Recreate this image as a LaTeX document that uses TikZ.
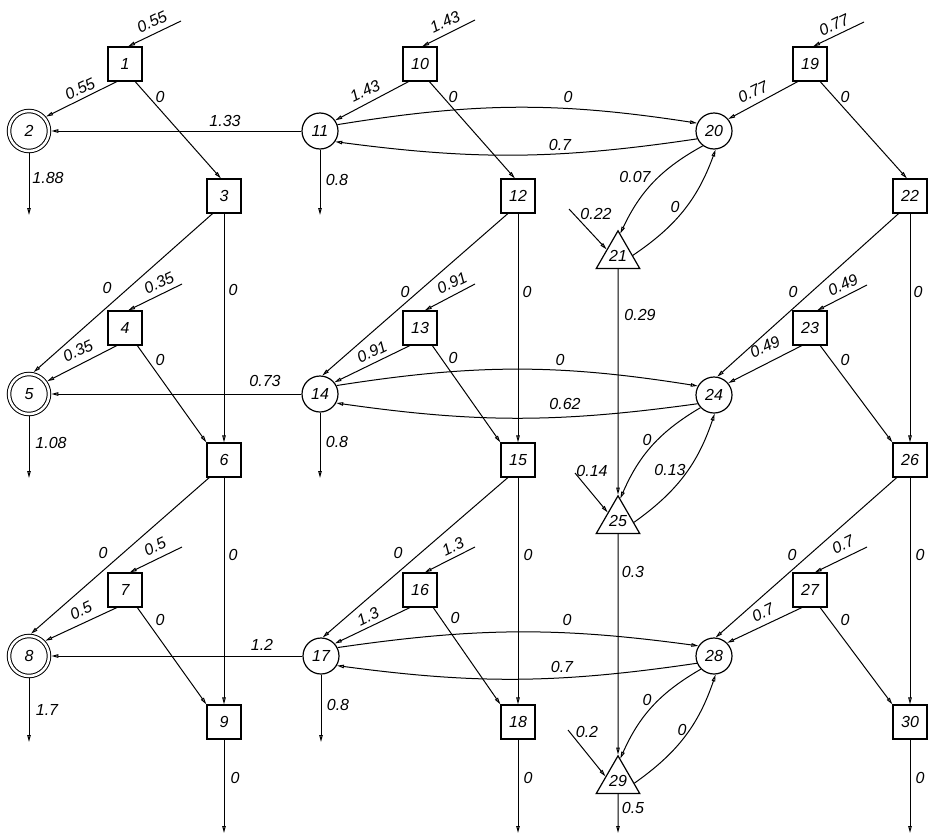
\documentclass[tikz,border=0pt]{standalone}
\usepackage{fontspec}
\setmainfont{Liberation Sans}
\usetikzlibrary{arrows.meta,shapes.geometric,calc}
\begin{document}
\begin{tikzpicture}[x=1pt,y=-1pt,
  every node/.style={font=\fontsize{16}{18}\selectfont\itshape},
  sq/.style={draw,line width=1.2pt,minimum size=34pt,inner sep=0pt},
  cir/.style={draw,circle,line width=1.2pt,minimum size=36pt,inner sep=0pt},
  dcir/.style={draw,circle,double,double distance=2.5pt,line width=1pt,minimum size=40pt,inner sep=0pt,outer sep=2.3pt},
  tri/.style={draw,regular polygon,regular polygon sides=3,minimum size=48pt,inner sep=0pt,line width=1.2pt},
  ar/.style={line width=1pt,-{Triangle[open,length=7pt,width=3.5pt]}},
  lb/.style={inner sep=1pt},
]
\useasboundingbox (0,0) rectangle (934,838);
% nodes
\node[sq] (n1) at (125,64) {1};
\node[dcir] (n2) at (29,131) {2};
\node[sq] (n3) at (224,196) {3};
\node[sq] (n4) at (125,328) {4};
\node[dcir] (n5) at (29,394) {5};
\node[sq] (n6) at (224,460) {6};
\node[sq] (n7) at (125,590) {7};
\node[dcir] (n8) at (29,656) {8};
\node[sq] (n9) at (224,722) {9};
\node[sq] (n10) at (420,64) {10};
\node[cir] (n11) at (320,131) {11};
\node[sq] (n12) at (518,196) {12};
\node[sq] (n13) at (420,328) {13};
\node[cir] (n14) at (320,394) {14};
\node[sq] (n15) at (518,460) {15};
\node[sq] (n16) at (420,590) {16};
\node[cir] (n17) at (321,656) {17};
\node[sq] (n18) at (518,722) {18};
\node[sq] (n19) at (810,64) {19};
\node[cir] (n20) at (714,131) {20};
\node[tri] (n21) at (618,256) {21};
\node[sq] (n22) at (910,196) {22};
\node[sq] (n23) at (810,328) {23};
\node[cir] (n24) at (714,395) {24};
\node[tri] (n25) at (618,521) {25};
\node[sq] (n26) at (910,460) {26};
\node[sq] (n27) at (810,590) {27};
\node[cir] (n28) at (714,656) {28};
\node[tri] (n29) at (618,781) {29};
\node[sq] (n30) at (910,722) {30};
% free ends
\coordinate (i1) at (181,21);
\coordinate (i10) at (475,20);
\coordinate (i19) at (864,22);
\coordinate (i4) at (182,284);
\coordinate (i13) at (475,284);
\coordinate (i23) at (867,285);
\coordinate (i7) at (182,547);
\coordinate (i16) at (475,547);
\coordinate (i27) at (867,547);
\coordinate (i21) at (569,209);
\coordinate (i25) at (575,473);
\coordinate (i29) at (568,730);
\coordinate (o2) at (29,215);
\coordinate (o11) at (320,215);
\coordinate (o5) at (29,478);
\coordinate (o14) at (320,478);
\coordinate (o8) at (29,742);
\coordinate (o17) at (321,742);
\coordinate (o9) at (224,833);
\coordinate (o18) at (518,833);
\coordinate (o29) at (618,833);
\coordinate (o30) at (910,833);
% row 1
\draw[ar] (i1) -- (n1.80) node[lb,rotate=26] at (152,22) {0.55};
\draw[ar] (n1.-115) -- (n2.40) node[lb,rotate=26] at (80,89) {0.55};
\draw[ar] (n1.-60) -- (n3.100) node[lb] at (160,97) {0};
\draw[ar] (n11.west) -- (n2.east) node[lb] at (225,121) {1.33};
\draw[ar] (n2.south) -- (o2) node[lb] at (48,178) {1.88};
\draw[ar] (i10) -- (n10.83) node[lb,rotate=26] at (445,22) {1.43};
\draw[ar] (n10.-123) -- (n11.35) node[lb,rotate=26] at (365,91) {1.43};
\draw[ar] (n10.-62) -- (n12.100) node[lb] at (453,97) {0};
\draw[ar] (n11.south) -- (o11) node[lb] at (337,180) {0.8};
\draw[ar] (n11.20) to[bend left=9] (n20.155);
\node[lb] at (568,97) {0};
\draw[ar] (n20.-155) to[bend left=8] (n11.-35);
\node[lb] at (560,145) {0.7};
\draw[ar] (i19) -- (n19.80) node[lb,rotate=26] at (834,25) {0.77};
\draw[ar] (n19.-125) -- (n20.40) node[lb,rotate=26] at (753,92) {0.77};
\draw[ar] (n19.-60) -- (n22.100) node[lb] at (845,97) {0};
\draw[ar] (n20.-127) to[bend right=18] ($(n21.corner 1)!0.1!(n21.corner 3)$);
\node[lb] at (635,177) {0.07};
\draw[ar] ($(n21.corner 3)!0.35!(n21.corner 1)$) to[bend right=18] (n20.-85);
\node[lb] at (675,207) {0};
\draw[ar] (i21) -- ($(n21.corner 1)!0.5!(n21.corner 2)$) node[lb] at (596,214) {0.22};
% row 2
\draw[ar] (n3.-123) -- (n5.78) node[lb] at (107,288) {0};
\draw[ar] (n3.south) -- (n6.north) node[lb] at (233,290) {0};
\draw[ar] (i4) -- (n4.80) node[lb,rotate=26] at (159,283) {0.35};
\draw[ar] (n4.-115) -- (n5.35) node[lb,rotate=26] at (78,351) {0.35};
\draw[ar] (n4.-55) -- (n6.north west) node[lb] at (160,360) {0};
\draw[ar] (n14.west) -- (n5.east) node[lb] at (265,381) {0.73};
\draw[ar] (n5.south) -- (o5) node[lb] at (51,443) {1.08};
\draw[ar] (n12.-120) -- (n14.83) node[lb] at (405,292) {0};
\draw[ar] (n12.south) -- (n15.north) node[lb] at (527,292) {0};
\draw[ar] (i13) -- (n13.75) node[lb,rotate=26] at (452,283) {0.91};
\draw[ar] (n13.-120) -- (n14.39) node[lb,rotate=26] at (372,352) {0.91};
\draw[ar] (n13.-55) -- (n15.north west) node[lb] at (453,358) {0};
\draw[ar] (n14.south) -- (o14) node[lb] at (337,442) {0.8};
\draw[ar] (n14.27) to[bend left=9] (n24.151);
\node[lb] at (560,360) {0};
\draw[ar] (n24.-152) to[bend left=8] (n14.-29);
\node[lb] at (565,404) {0.62};
\draw[ar] (n21.south) -- (n25.north) node[lb] at (640,315) {0.29};
\draw[ar] (i25) -- ($(n25.corner 1)!0.45!(n25.corner 2)$) node[lb] at (592,471) {0.14};
\draw[ar] (n24.-137) to[bend right=18] ($(n25.corner 1)!0.1!(n25.corner 3)$);
\node[lb] at (647,440) {0};
\draw[ar] ($(n25.corner 3)!0.3!(n25.corner 1)$) to[bend right=18] (n24.-88);
\node[lb] at (670,470) {0.13};
\draw[ar] (n22.-123) -- (n24.80) node[lb] at (793,292) {0};
\draw[ar] (n22.south) -- (n26.north) node[lb] at (918,292) {0};
\draw[ar] (i23) -- (n23.68) node[lb,rotate=26] at (843,285) {0.49};
\draw[ar] (n23.-115) -- (n24.40) node[lb,rotate=26] at (765,347) {0.49};
\draw[ar] (n23.-60) -- (n26.north west) node[lb] at (845,360) {0};
% row 3
\draw[ar] (n6.-130) -- (n8.85) node[lb] at (103,553) {0};
\draw[ar] (n6.south) -- (n9.north) node[lb] at (233,555) {0};
\draw[ar] (i7) -- (n7.75) node[lb,rotate=26] at (155,547) {0.5};
\draw[ar] (n7.-115) -- (n8.43) node[lb,rotate=26] at (81,611) {0.5};
\draw[ar] (n7.-55) -- (n9.north west) node[lb] at (160,620) {0};
\draw[ar] (n17.west) -- (n8.east) node[lb] at (262,645) {1.2};
\draw[ar] (n8.south) -- (o8) node[lb] at (47,710) {1.7};
\draw[ar] (n9.south) -- (o9) node[lb] at (235,778) {0};
\draw[ar] (n15.-120) -- (n17.85) node[lb] at (398,553) {0};
\draw[ar] (n15.south) -- (n18.north) node[lb] at (528,555) {0};
\draw[ar] (i16) -- (n16.75) node[lb,rotate=26] at (453,547) {1.3};
\draw[ar] (n16.-120) -- (n17.42) node[lb,rotate=26] at (368,617) {1.3};
\draw[ar] (n16.-53) -- (n18.north west) node[lb] at (455,618) {0};
\draw[ar] (n17.south) -- (o17) node[lb] at (338,705) {0.8};
\draw[ar] (n18.south) -- (o18) node[lb] at (528,778) {0};
\draw[ar] (n17.27) to[bend left=8] (n28.147);
\node[lb] at (567,620) {0};
\draw[ar] (n28.-157) to[bend left=8] (n17.-31);
\node[lb] at (562,667) {0.7};
\draw[ar] (n25.south) -- (n29.north) node[lb] at (633,572) {0.3};
\draw[ar] (i29) -- ($(n29.corner 1)!0.55!(n29.corner 2)$) node[lb] at (587,732) {0.2};
\draw[ar] (n28.-135) to[bend right=18] ($(n29.corner 1)!0.1!(n29.corner 3)$);
\node[lb] at (647,700) {0};
\draw[ar] ($(n29.corner 3)!0.28!(n29.corner 1)$) to[bend right=18] (n28.-85);
\node[lb] at (682,730) {0};
\draw[ar] (n29.south) -- (o29) node[lb] at (633,808) {0.5};
\draw[ar] (n26.-127) -- (n28.85) node[lb] at (792,555) {0};
\draw[ar] (n26.south) -- (n30.north) node[lb] at (920,555) {0};
\draw[ar] (i27) -- (n27.75) node[lb,rotate=26] at (843,545) {0.7};
\draw[ar] (n27.-115) -- (n28.45) node[lb,rotate=26] at (763,613) {0.7};
\draw[ar] (n27.-60) -- (n30.north west) node[lb] at (845,620) {0};
\draw[ar] (n30.south) -- (o30) node[lb] at (920,778) {0};
\end{tikzpicture}
\end{document}
